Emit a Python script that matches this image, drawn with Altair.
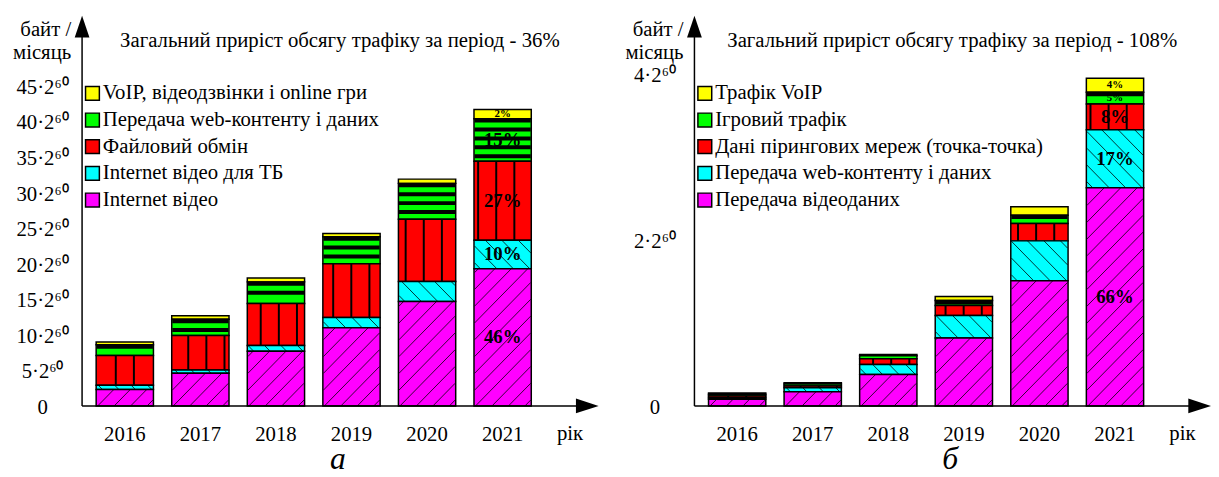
import altair as alt
import pandas as pd

# ---------------- data ----------------
years = [2016, 2017, 2018, 2019, 2020, 2021]

# panel "а" (legend order, top -> bottom)
series_a = [
    "VoIP, відеодзвінки і online гри",
    "Передача web-контенту і даних",
    "Файловий обмін",
    "Internet відео для ТБ",
    "Internet відео",
]
voip_a = [0.4, 0.5, 0.55, 0.45, 0.6, 1.3]
web_a = [1.5, 2.3, 3.05, 3.8, 5.05, 6.0]
file_a = [4.2, 4.85, 5.9, 7.55, 8.75, 11.1]
tv_a = [0.6, 0.45, 0.8, 1.45, 2.8, 4.0]
video_a = [2.3, 4.6, 7.7, 11.0, 14.7, 19.3]
pct_a = [2, 15, 27, 10, 46]          # shares in 2021
ticks_a = [0, 5, 10, 15, 20, 25, 30, 35, 40, 45]
title_a = "Загальний приріст обсягу трафіку за період - 36%"
letter_a = "а"

# panel "б"
series_b = [
    "Трафік VoIP",
    "Ігровий трафік",
    "Дані пірингових мереж (точка-точка)",
    "Передача web-контенту і даних",
    "Передача відеоданих",
]
voip_b = [0.015, 0.015, 0.015, 0.05, 0.10, 0.17]
game_b = [0.02, 0.025, 0.035, 0.06, 0.10, 0.14]
p2p_b = [0.02, 0.02, 0.07, 0.12, 0.21, 0.31]
web_b = [0.02, 0.05, 0.12, 0.27, 0.48, 0.70]
video_b = [0.08, 0.17, 0.38, 0.82, 1.51, 2.63]
pct_b = [4, 5, 8, 17, 66]
ticks_b = [0, 2, 4]
title_b = "Загальний приріст обсягу трафіку за період - 108%"
letter_b = "б"

y_title = ["байт /", "місяць"]
x_title = "рік"
unit_suffix = "·2⁶⁰"
colors = ["#FFFF00", "#00FF00", "#FF0000", "#00FFFF", "#FF00FF"]

FONT = "Liberation Serif"
FS = 21


def make_df(series, values, pcts):
    rows = []
    n = len(series)
    for i, (s, vals, p) in enumerate(zip(series, values, pcts)):
        for yr, v in zip(years, vals):
            rows.append(dict(year=yr, series=s, ord=n - 1 - i, value=v,
                             pct=p if yr == years[-1] else None))
    return pd.DataFrame(rows)


df_a = make_df(series_a, [voip_a, web_a, file_a, tv_a, video_a], pct_a)
df_b = make_df(series_b, [voip_b, game_b, p2p_b, web_b, video_b], pct_b)

# ---------------- geometry ----------------
W, H = 523, 395       # plot area (axis origin to arrow tips)
PXX = 78              # px per year
BW = 58               # bar width
X0 = 2015.5
S = 17                # hatch spacing
P, PHASE = 18.7, 11   # vertical line pattern


def panel(df, series, pxy, ticks, title, letter):
    xscale = alt.Scale(domain=[X0, X0 + W / PXX], nice=False, zero=False)
    yscale = alt.Scale(domain=[0, H / pxy], nice=False, zero=True)

    base = alt.Chart(df).transform_stack(
        stack="value", as_=["y0", "y1"], groupby=["year"],
        sort=[alt.SortField("ord", order="ascending")],
    )

    def xq(f):
        return alt.X(f, scale=xscale, axis=None)

    def yq(f):
        return alt.Y(f, scale=yscale, axis=None)

    bars = base.mark_bar(size=BW, stroke="black", strokeWidth=1.5).encode(
        x=xq("year:Q"),
        y=yq("y0:Q"),
        y2="y1:Q",
        color=alt.Color(
            "series:N",
            scale=alt.Scale(domain=series, range=colors),
            legend=alt.Legend(
                title=None, orient="none", legendX=0, legendY=68,
                direction="vertical", symbolType="square", symbolSize=196,
                symbolStrokeColor="black", symbolStrokeWidth=1.5,
                symbolOpacity=1, labelFont=FONT, labelFontSize=FS,
                labelColor="black", rowPadding=5, labelOffset=0, padding=0,
                labelLimit=800,
            ),
        ),
    )

    # "/" hatch on the bottom series
    slash = (
        base.transform_filter("datum.ord == 0")
        .transform_calculate(k="sequence(0, 40)")
        .transform_flatten(["k"])
        .transform_calculate(h=f"(datum.y1 - datum.y0) * {pxy}")
        .transform_calculate(c=f"datum.k * {S} - {BW} + 6")
        .transform_calculate(u0="max(0, -datum.c)")
        .transform_calculate(u1=f"min({BW}, datum.h - datum.c)")
        .transform_filter("datum.u1 - datum.u0 > 1")
        .transform_calculate(
            xa=f"datum.year + (datum.u0 - {BW / 2}) / {PXX}",
            xb=f"datum.year + (datum.u1 - {BW / 2}) / {PXX}",
            ya=f"datum.y0 + (datum.u0 + datum.c) / {pxy}",
            yb=f"datum.y0 + (datum.u1 + datum.c) / {pxy}",
        )
        .mark_rule(color="black", strokeWidth=1, opacity=0.8)
        .encode(x=xq("xa:Q"), x2="xb:Q", y=yq("ya:Q"), y2="yb:Q")
    )

    # "\" hatch on the second series
    back = (
        base.transform_filter("datum.ord == 1")
        .transform_calculate(k="sequence(0, 40)")
        .transform_flatten(["k"])
        .transform_calculate(h=f"(datum.y1 - datum.y0) * {pxy}")
        .transform_calculate(c=f"datum.k * {S} + 6")
        .transform_calculate(u0="max(0, datum.c - datum.h)")
        .transform_calculate(u1=f"min({BW}, datum.c)")
        .transform_filter("datum.u1 - datum.u0 > 1")
        .transform_calculate(
            xa=f"datum.year + (datum.u0 - {BW / 2}) / {PXX}",
            xb=f"datum.year + (datum.u1 - {BW / 2}) / {PXX}",
            ya=f"datum.y0 + (datum.c - datum.u0) / {pxy}",
            yb=f"datum.y0 + (datum.c - datum.u1) / {pxy}",
        )
        .mark_rule(color="black", strokeWidth=1, opacity=0.8)
        .encode(x=xq("xa:Q"), x2="xb:Q", y=yq("ya:Q"), y2="yb:Q")
    )

    # vertical lines on the red series
    vert = (
        base.transform_filter("datum.ord == 2")
        .transform_calculate(k="sequence(0, 5)")
        .transform_flatten(["k"])
        .transform_calculate(xl=f"(datum.year - {X0}) * {PXX} - {BW / 2}")
        .transform_calculate(
            g=f"{PHASE} + (ceil((datum.xl - {PHASE}) / {P}) + datum.k) * {P}"
        )
        .transform_filter(f"datum.g > datum.xl + 1 && datum.g < datum.xl + {BW} - 1")
        .transform_calculate(xg=f"{X0} + datum.g / {PXX}")
        .mark_rule(color="black", strokeWidth=2)
        .encode(x=xq("xg:Q"), y=yq("y0:Q"), y2="y1:Q")
    )

    # horizontal stripes on the green series
    horiz = (
        base.transform_filter("datum.ord == 3")
        .transform_calculate(k="sequence(0, 20)")
        .transform_flatten(["k"])
        .transform_calculate(h=f"(datum.y1 - datum.y0) * {pxy}")
        .transform_calculate(v="2 + datum.k * 9")
        .transform_filter("datum.v <= datum.h - 2")
        .transform_calculate(
            ys=f"datum.y1 - datum.v / {pxy}",
            xa=f"datum.year - {BW / 2} / {PXX}",
            xb=f"datum.year + {BW / 2} / {PXX}",
        )
        .mark_rule(color="black", strokeWidth=4)
        .encode(x=xq("xa:Q"), x2="xb:Q", y=yq("ys:Q"))
    )

    pct = (
        base.transform_filter("isValid(datum.pct)")
        .transform_calculate(mid="(datum.y0 + datum.y1) / 2",
                             lab="datum.pct + '%'")
        .mark_text(font=FONT, fontWeight="bold", align="center",
                   baseline="middle", color="black")
        .encode(
            x=xq("year:Q"), y=yq("mid:Q"), text="lab:N",
            size=alt.condition("datum.pct < 6", alt.value(11), alt.value(19)),
        )
    )

    # y tick labels
    ylab = (
        alt.Chart(pd.DataFrame({"v": ticks}))
        .transform_calculate(
            lab=f"datum.v == 0 ? '0' : datum.v + '{unit_suffix}'")
        .mark_text(font=FONT, fontSize=FS, align="center", baseline="middle",
                   color="black", dy=2)
        .encode(x=alt.value(-40), y=yq("v:Q"), text="lab:N")
    )
    # x tick labels
    xlab = (
        alt.Chart(pd.DataFrame({"year": years}))
        .mark_text(font=FONT, fontSize=FS, align="center", baseline="middle",
                   color="black")
        .encode(x=xq("year:Q"), y=alt.value(H + 29), text="year:N")
    )

    one = alt.Data(values=[{}])
    x_line = alt.Chart(one).mark_rule(color="black", strokeWidth=1.5).encode(
        x=alt.value(0), x2=alt.value(W - 12), y=alt.value(H))
    y_line = alt.Chart(one).mark_rule(color="black", strokeWidth=1.5).encode(
        x=alt.value(0), y=alt.value(12), y2=alt.value(H))
    xname = alt.Chart(one).mark_text(
        text=x_title, font=FONT, fontSize=FS, align="center",
        baseline="middle", color="black",
    ).encode(x=alt.value(494), y=alt.value(H + 28))
    yname = alt.Chart(one).mark_text(
        text=y_title, font=FONT, fontSize=FS, align="right",
        baseline="middle", color="black", lineHeight=24,
    ).encode(x=alt.value(-11), y=alt.value(14))
    xarrow = alt.Chart(one).mark_point(
        shape="M-1,-0.65L1,0L-1,0.65Z", size=529, filled=True,
        color="black", opacity=1, strokeWidth=0,
    ).encode(x=alt.value(W - 11.5), y=alt.value(H))
    yarrow = alt.Chart(one).mark_point(
        shape="M-0.68,1L0,-1L0.68,1Z", size=484, filled=True,
        color="black", opacity=1, strokeWidth=0,
    ).encode(x=alt.value(0), y=alt.value(11))
    ttl = alt.Chart(one).mark_text(
        text=title, font=FONT, fontSize=FS, align="center",
        baseline="middle", color="black",
    ).encode(x=alt.value(261), y=alt.value(26))
    let = alt.Chart(one).mark_text(
        text=letter, font=FONT, fontSize=32, fontStyle="italic",
        align="center", baseline="alphabetic", color="black",
    ).encode(x=alt.value(259), y=alt.value(H + 64))

    return alt.layer(bars, slash, back, vert, horiz, pct, x_line, y_line,
                     ylab, xlab, xname, yname, xarrow, yarrow, ttl, let
                     ).properties(width=W, height=H)


left = panel(df_a, series_a, 7.2, ticks_a, title_a, letter_a)
right = panel(df_b, series_b, 84, ticks_b, title_b, letter_b)

chart = (
    alt.hconcat(left, right, spacing=27)
    .resolve_scale(color="independent")
    .resolve_legend(color="independent")
    .configure(font=FONT)
    .configure_view(stroke="transparent", strokeWidth=0)
    .properties(padding={"left": 5, "top": 5, "right": 0, "bottom": 0})
)

chart.save("out.html", embed_options={"renderer": "svg", "actions": False})
